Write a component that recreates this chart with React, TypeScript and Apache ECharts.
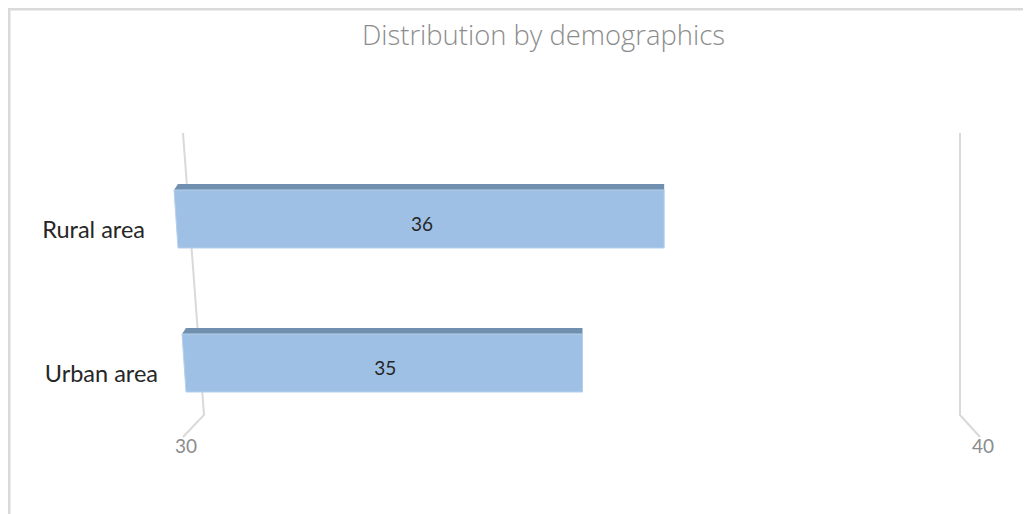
import React, { useEffect, useRef } from "react";
import * as echarts from "echarts";

const title = "Distribution by demographics";
const categories = ["Rural area", "Urban area"];
const values = [36, 35];
const axisMin = 30;
const axisMax = 40;

export default function App() {
  const ref = useRef<HTMLDivElement>(null);
  useEffect(() => {
    if (!ref.current) return;
    const chart = echarts.init(ref.current, undefined, { renderer: "svg" });
    const font = "Lato, 'Open Sans', sans-serif";
    chart.setOption({
      animation: false,
      title: {
        text: title,
        left: 349,
        top: 8,
        textStyle: { fontFamily: "'Open Sans', sans-serif", fontWeight: 300, fontSize: 27.4, color: "#8c8c8c" },
      },
      grid: { left: 178, right: 48, top: 139, height: 288 },
      xAxis: {
        type: "value",
        min: axisMin,
        max: axisMax,
        interval: 10,
        axisLine: { show: false },
        axisTick: { show: false },
        splitLine: { show: false },
        axisLabel: { fontFamily: font, fontSize: 19, color: "#8c8c8c", margin: 1 },
      },
      yAxis: {
        type: "category",
        data: categories,
        inverse: true,
        axisLine: { show: false },
        axisTick: { show: false },
        axisLabel: {
          margin: 28,
          verticalAlign: "top",
          formatter: (v: string, i: number) => (i === 0 ? `{r|${v}}` : `{u|${v}}`),
          rich: {
            r: { fontFamily: font, fontSize: 23.5, color: "#262626", lineHeight: 20, padding: [0, 13, 0, 0] },
            u: { fontFamily: font, fontSize: 23.5, color: "#262626", lineHeight: 20 },
          },
        },
      },
      graphic: [
        { type: "line", shape: { x1: 0, y1: 1, x2: 1023, y2: 1 }, style: { stroke: "#d9d9d9", lineWidth: 3 } },
        { type: "line", shape: { x1: 1, y1: 0, x2: 1, y2: 506 }, style: { stroke: "#d9d9d9", lineWidth: 3 } },
        {
          type: "polyline",
          shape: { points: [[175, 125], [196, 407], [175, 429]] },
          style: { stroke: "#d9d9d9", lineWidth: 2, fill: "none" },
          z: -1,
        },
        {
          type: "polyline",
          shape: { points: [[952, 125], [952, 407], [972, 429]] },
          style: { stroke: "#d9d9d9", lineWidth: 2, fill: "none" },
          z: -1,
        },
      ],
      series: [
        {
          type: "custom",
          data: values.map((v, i) => [v, i]),
          encode: { x: 0, y: 1 },
          renderItem: (params: any, api: any) => {
            const v = api.value(0);
            const idx = api.value(1);
            const p0 = api.coord([axisMin, idx]);
            const p1 = api.coord([v, idx]);
            const h = 58;
            const depth = 6;
            const xl = p0[0] - 12 + idx * 8;
            const xr = p1[0] - idx * 2;
            const yTop = p0[1] - h / 2;
            const yBot = p0[1] + h / 2;
            return {
              type: "group",
              children: [
                {
                  type: "polygon",
                  shape: { points: [[xl, yTop], [xl + 4, yTop - depth], [xr, yTop - depth], [xr, yTop]] },
                  style: { fill: "#7190b0" },
                },
                {
                  type: "polygon",
                  shape: { points: [[xl, yTop], [xr, yTop], [xr, yBot], [xl + 4, yBot]] },
                  style: { fill: "#9dc0e4", stroke: "#b5d0ec", lineWidth: 1 },
                },
                {
                  type: "text",
                  style: {
                    text: String(v),
                    x: (xl + xr) / 2 + 3,
                    y: p0[1] + 4,
                    align: "center",
                    verticalAlign: "middle",
                    fontFamily: font,
                    fontSize: 19,
                    fill: "#262626",
                  },
                },
              ],
            };
          },
        },
      ],
    });
    return () => chart.dispose();
  }, []);
  return <div ref={ref} style={{ width: 1023, height: 506 }} />;
}
